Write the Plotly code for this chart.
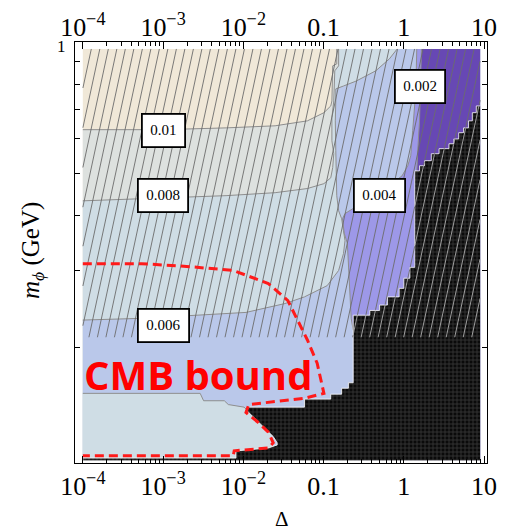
import numpy as np
import plotly.graph_objects as go

# ---- extent of the computed (Delta, m_phi) grid ----
DELTA_MIN, DELTA_MAX = 1e-4, 8.93
M_MIN, M_MAX = 0.1104, 0.964
HATCH_M_MIN = 0.211          # hatched band: m_phi above this value

# ---- contour levels of the relic quantity ----
c010_delta = [1e-4, 1e-3, 6.1e-3, 0.0249, 0.0629, 0.101, 0.123, 0.127, 0.130, 0.146, 0.146]
c010_m = [0.630, 0.630, 0.636, 0.643, 0.660, 0.689, 0.714, 0.733, 0.882, 0.891, 0.964]

c008_delta = [1e-4, 6.1e-3, 0.0249, 0.0629, 0.101, 0.123, 0.130, 0.134, 0.127, 0.127, 0.134,
              0.138, 0.154, 0.154]
c008_m = [0.433, 0.445, 0.452, 0.462, 0.474, 0.489, 0.516, 0.555, 0.594, 0.671, 0.733,
          0.859, 0.882, 0.964]

c006_delta = [1e-4, 4.9e-4, 2.65e-3, 0.0108, 0.033, 0.0578, 0.111, 0.154, 0.177, 0.185, 0.177,
              0.168, 0.154, 0.146, 0.142, 0.140, 0.142, 0.142, 0.177, 0.255, 0.447, 0.661, 0.826]
c006_m = [0.231, 0.233, 0.237, 0.2405, 0.252, 0.261, 0.277, 0.300, 0.328, 0.351, 0.370,
          0.394, 0.411, 0.445, 0.564, 0.660, 0.733, 0.781, 0.793, 0.814, 0.859, 0.915, 0.964]

c004_delta = [1.45, 1.41, 1.29, 1.22, 1.12, 0.951, 0.543, 0.270, 0.185, 0.172, 0.181, 0.198,
              0.204, 0.215, 0.221, 0.234, 0.234]
c004_m = [0.964, 0.773, 0.627, 0.549, 0.521, 0.494, 0.457, 0.422, 0.405, 0.394, 0.365, 0.346,
          0.305, 0.256, 0.233, 0.219, 0.1104]

c002_delta = [1.66, 1.62, 1.57, 1.49, 1.45, 1.37, 1.37]
c002_m = [0.964, 0.773, 0.660, 0.564, 0.502, 0.433, 0.1104]

# low-mass pocket where the quantity rises again
low_delta = [1e-4, 2.9e-3, 3.2e-3, 5.8e-3, 6.5e-3, 0.0102, 0.0142, 0.0217, 0.0249, 0.0229,
             8.1e-3, 8.1e-3, 1e-4]
low_m = [0.157, 0.157, 0.151, 0.151, 0.148, 0.146, 0.138, 0.128, 0.121, 0.118,
         0.115, 0.1116, 0.1116]

# excluded region (no viable solution)
excl_delta = [8.93, 8.0, 8.0, 7.14, 7.14, 6.39, 6.39, 5.55, 5.55, 4.83, 4.83, 4.2, 4.2, 3.65,
              3.65, 2.75, 2.75, 2.2, 2.2, 1.81, 1.81, 1.57, 1.57, 1.37, 1.37, 1.19, 1.19, 1.0,
              1.0, 0.875, 0.875, 0.625, 0.625, 0.499, 0.499, 0.377, 0.377, 0.234, 0.234, 0.204,
              0.204, 0.168, 0.168, 0.123, 0.123, 0.0578, 0.0578, 0.0117, 0.0108, 0.0236,
              0.0264, 0.0264, 0.0205, 8.1e-3, 8.1e-3, 1e-4, 1e-4, 8.93]
excl_m = [0.714, 0.714, 0.689, 0.689, 0.660, 0.660, 0.636, 0.636, 0.620, 0.620, 0.600, 0.600,
          0.585, 0.585, 0.570, 0.570, 0.555, 0.555, 0.535, 0.535, 0.521, 0.521, 0.507, 0.507,
          0.305, 0.305, 0.288, 0.288, 0.273, 0.273, 0.261, 0.261, 0.250, 0.250, 0.243, 0.243,
          0.237, 0.237, 0.166, 0.166, 0.1613, 0.1613, 0.1563, 0.1563, 0.1523, 0.1523, 0.146,
          0.146, 0.144, 0.125, 0.121, 0.1196, 0.1177, 0.1159, 0.1116, 0.1116, 0.1100, 0.1100]

# CMB bound
cmb_delta = [1e-4, 5.37e-4, 2.18e-3, 7.5e-3, 0.0205, 0.0359, 0.0474, 0.0629, 0.0832, 0.101,
             0.0578, 0.0117, 0.0108, 0.0151, 0.0205, 0.0236, 0.0205, 7.7e-3, 7.5e-3, 1e-4]
cmb_m = [0.311, 0.311, 0.306, 0.300, 0.280, 0.256, 0.231, 0.208, 0.184, 0.157,
         0.153, 0.148, 0.142, 0.135, 0.128, 0.121, 0.1177, 0.116, 0.113, 0.113]

# contour labels
label_text = ["0.01", "0.008", "0.006", "0.004", "0.002"]
label_delta = [1e-3, 1e-3, 1e-3, 0.499, 1.57]
label_m = [0.627, 0.445, 0.224, 0.445, 0.793]

# axis ticks
x_tickvals = [1e-4, 1e-3, 1e-2, 0.1, 1, 10]
x_ticktext = ["10<sup>\u22124</sup>", "10<sup>\u22123</sup>", "10<sup>\u22122</sup>",
              "0.1", "1", "10"]
x_minor = [k * 10.0 ** e for e in range(-4, 1) for k in range(2, 10)]
y_tickvals = [0.2, 0.3, 0.4, 0.5, 0.6, 0.7, 0.8, 0.9, 1.0]
y_top_label = "1"

# fill colours per band
COL_ABOVE_010 = "#f0e8d8"
COL_008_010 = "#dde1df"
COL_006_008 = "#cfdde5"
COL_004_006 = "#bac8ea"
COL_002_004 = "#9d98e8"
COL_BELOW_002 = "#6748b4"
CONTOUR_LINE = "#8e8e8e"

SERIF = "Liberation Serif"

fig = go.Figure()


def band(dx, my, color):
    fig.add_trace(go.Scatter(x=dx, y=my, mode="lines", fill="toself", fillcolor=color,
                             line=dict(width=0), hoverinfo="skip", showlegend=False))


def upper_closed(dx, my):
    # contour running from left edge to top edge, closed through the lower-right corner
    return (list(dx) + [DELTA_MAX, DELTA_MAX, DELTA_MIN],
            list(my) + [M_MAX, M_MIN, M_MIN])


def right_closed(dx, my):
    # contour running from top edge to bottom edge, closed through the right edge
    return (list(dx) + [DELTA_MAX, DELTA_MAX], list(my) + [M_MIN, M_MAX])


band([DELTA_MIN, DELTA_MAX, DELTA_MAX, DELTA_MIN], [M_MIN, M_MIN, M_MAX, M_MAX], COL_ABOVE_010)
band(*upper_closed(c010_delta, c010_m), COL_008_010)
band(*upper_closed(c008_delta, c008_m), COL_006_008)
band(*upper_closed(c006_delta, c006_m), COL_004_006)
band(*right_closed(c004_delta, c004_m), COL_002_004)
band(*right_closed(c002_delta, c002_m), COL_BELOW_002)
band(low_delta, low_m, COL_006_008)

# contour lines
for dx, my in [(c010_delta, c010_m), (c008_delta, c008_m), (c006_delta, c006_m),
               (c004_delta[:-1], c004_m[:-1]), (c002_delta[:-2], c002_m[:-2]),
               (low_delta[:8], low_m[:8])]:
    fig.add_trace(go.Scatter(x=dx, y=my, mode="lines",
                             line=dict(color=CONTOUR_LINE, width=1),
                             hoverinfo="skip", showlegend=False))

# excluded region: black with a fine grid texture
fig.add_trace(go.Scatter(x=excl_delta, y=excl_m, mode="lines", fill="toself",
                         fillcolor="#0a0a0a",
                         fillpattern=dict(shape="+", size=4, solidity=0.4,
                                          fgcolor="#5c5c5c", bgcolor="#0a0a0a"),
                         line=dict(color="white", width=0.8),
                         hoverinfo="skip", showlegend=False))


# ---- diagonal hatching of the band m_phi > HATCH_M_MIN ----
def inside_poly(px, py, vx, vy):
    res = np.zeros(px.shape, dtype=bool)
    n = len(vx)
    j = n - 1
    for i in range(n):
        yi, yj, xi, xj = vy[i], vy[j], vx[i], vx[j]
        if yi != yj:
            cross = ((yi > py) != (yj > py)) & (px < (xj - xi) * (py - yi) / (yj - yi) + xi)
            res ^= cross
        j = i
    return res


lx0, lx1 = np.log10(DELTA_MIN), np.log10(DELTA_MAX)
ly0, ly1 = np.log10(HATCH_M_MIN), np.log10(M_MAX)
HATCH_SLOPE = 1.17     # decades of Delta per decade of m along a hatch line
HATCH_STEP = 0.106     # spacing of hatch lines in decades of Delta
ex_lx = np.log10(np.array(excl_delta))
ex_ly = np.log10(np.array(excl_m))

dark_x, dark_y, light_x, light_y = [], [], [], []
start = lx0 - (ly1 - ly0) * HATCH_SLOPE
ly = np.linspace(ly0, ly1, 400)
s = start
while s <= lx1:
    lxv = s + (ly - ly0) * HATCH_SLOPE
    ok = (lxv >= lx0) & (lxv <= lx1)
    if ok.sum() > 1:
        xs, ys = lxv[ok], ly[ok]
        inb = inside_poly(xs, ys, ex_lx, ex_ly)
        k = 0
        while k < len(xs):
            m_ = k
            while m_ + 1 < len(xs) and inb[m_ + 1] == inb[k]:
                m_ += 1
            tx, ty = (light_x, light_y) if inb[k] else (dark_x, dark_y)
            tx += [10 ** xs[k], 10 ** xs[m_], None]
            ty += [10 ** ys[k], 10 ** ys[m_], None]
            k = m_ + 1
    s += HATCH_STEP

fig.add_trace(go.Scatter(x=dark_x, y=dark_y, mode="lines",
                         line=dict(color="#6c6c6c", width=0.9),
                         hoverinfo="skip", showlegend=False))
fig.add_trace(go.Scatter(x=light_x, y=light_y, mode="lines",
                         line=dict(color="#acacac", width=0.9),
                         hoverinfo="skip", showlegend=False))

# CMB bound
fig.add_trace(go.Scatter(x=cmb_delta, y=cmb_m, mode="lines",
                         line=dict(color="#ff1a1a", width=3, dash="9px,5px"),
                         hoverinfo="skip", showlegend=False))

# helper trace carrying the top axis
fig.add_trace(go.Scatter(x=[1e-3], y=[0.5], xaxis="x2", mode="markers",
                         marker=dict(opacity=0), hoverinfo="skip", showlegend=False))

# contour labels
for t, dx, my in zip(label_text, label_delta, label_m):
    fig.add_annotation(x=np.log10(dx), y=np.log10(my), xref="x", yref="y", text=t,
                       showarrow=False, font=dict(family=SERIF, size=15, color="black"),
                       bgcolor="white", bordercolor="black", borderwidth=1.8, borderpad=7.5)

fig.add_annotation(x=(82 - 75) / 422, y=(463 - 374) / 422, xref="paper", yref="paper",
                   xanchor="left", yanchor="middle", showarrow=False,
                   text="<b>CMB bound</b>",
                   font=dict(family="Open Sans", size=40, color="#ff0000"))

# label of the top y tick
fig.add_annotation(x=0, y=0.0, xref="paper", yref="y", xanchor="right", yanchor="middle",
                   xshift=-7, yshift=-4, showarrow=False, text=y_top_label,
                   font=dict(family=SERIF, size=17, color="black"))

# axis titles
fig.add_annotation(x=0.502, y=-0.1327, xref="paper", yref="paper", showarrow=False,
                   xanchor="center", yanchor="middle",
                   text="\u0394", font=dict(family=SERIF, size=21, color="black"))
fig.add_annotation(x=-0.102, y=0.506, xref="paper", yref="paper", showarrow=False,
                   xanchor="center", yanchor="middle", textangle=-90,
                   text="<i>m</i><sub><i>\u03d5</i></sub> (GeV)",
                   font=dict(family=SERIF, size=25, color="black"))

XRANGE = [-4.0973, 1.0365]
YRANGE = [-0.9635, 0.0]
tickfont = dict(family=SERIF, size=26, color="black")

fig.update_layout(
    width=506, height=532,
    margin=dict(l=75, r=9, t=41, b=69),
    paper_bgcolor="white", plot_bgcolor="white",
    showlegend=False,
    xaxis=dict(type="log", range=XRANGE, tickvals=x_tickvals, ticktext=x_ticktext,
               ticks="inside", ticklen=7, tickwidth=1, tickcolor="black",
               showline=True, linecolor="black", linewidth=1, mirror="ticks",
               showgrid=False, zeroline=False, tickfont=tickfont,
               ticklabeloverflow="allow",
               minor=dict(tickvals=x_minor, ticks="inside", ticklen=4, tickwidth=1,
                          tickcolor="black", showgrid=False)),
    xaxis2=dict(type="log", range=XRANGE, overlaying="x", side="top", anchor="y",
                tickvals=x_tickvals, ticktext=x_ticktext, ticks="", showline=False,
                showgrid=False, zeroline=False, tickfont=tickfont,
                ticklabeloverflow="allow"),
    yaxis=dict(type="log", range=YRANGE, tickvals=y_tickvals,
               showticklabels=False,
               ticks="inside", ticklen=5, tickwidth=1, tickcolor="black",
               showline=True, linecolor="black", linewidth=1, mirror="ticks",
               showgrid=False, zeroline=False),
)

fig.write_html("out.html")
